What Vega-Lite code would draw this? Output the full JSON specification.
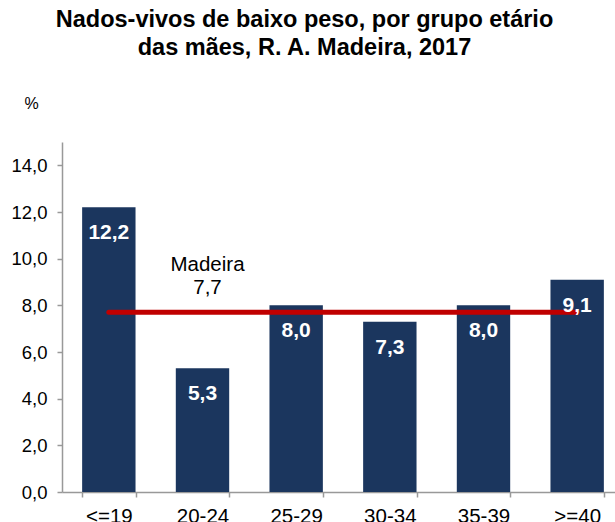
{
  "$schema": "https://vega.github.io/schema/vega-lite/v6.json",
  "autosize": {"type": "none"},
  "padding": {"left": 62, "top": 142, "right": 0, "bottom": 30},
  "width": 553,
  "height": 350,
  "background": "white",
  "config": {
    "font": "Liberation Sans",
    "view": {"stroke": null}
  },
  "title": {
    "text": ["Nados-vivos de baixo peso, por grupo etário", "das mães, R. A. Madeira, 2017"],
    "font": "Liberation Sans",
    "fontSize": 23.5,
    "fontWeight": "bold",
    "color": "#000000",
    "anchor": "middle",
    "dx": -34,
    "offset": 12,
    "lineHeight": 28,
    "baseline": "bottom"
  },
  "datasets": {
    "bars": [
      {"grupo": "<=19", "valor": 12.2, "rotulo": "12,2"},
      {"grupo": "20-24", "valor": 5.3, "rotulo": "5,3"},
      {"grupo": "25-29", "valor": 8.0, "rotulo": "8,0"},
      {"grupo": "30-34", "valor": 7.3, "rotulo": "7,3"},
      {"grupo": "35-39", "valor": 8.0, "rotulo": "8,0"},
      {"grupo": ">=40", "valor": 9.1, "rotulo": "9,1"}
    ],
    "media": [
      {"inicio": "<=19", "fim": ">=40", "pos": "20-24", "valor": 7.7, "rotulo": ["Madeira", "7,7"]}
    ]
  },
  "layer": [
    {
      "data": {"name": "bars"},
      "mark": {"type": "bar", "color": "#1B365E"},
      "encoding": {
        "x": {
          "field": "grupo",
          "type": "nominal",
          "sort": null,
          "scale": {"range": [0, 562], "paddingInner": 0.43, "paddingOuter": 0.215},
          "axis": {
            "title": null,
            "labelAngle": 0,
            "labelFontSize": 20.5,
            "labelColor": "#000000",
            "labelPadding": 9,
            "labelBaseline": "top",
            "domainColor": "#999999",
            "domainWidth": 1.5,
            "tickColor": "#999999",
            "tickWidth": 1.5,
            "tickSize": 5,
            "tickBand": "extent",
            "grid": false
          }
        },
        "y": {
          "field": "valor",
          "type": "quantitative",
          "scale": {"domain": [0, 15], "nice": false},
          "axis": {
            "values": [0, 2, 4, 6, 8, 10, 12, 14],
            "labelExpr": "replace(format(datum.value, '.1f'), '.', ',')",
            "labelFontSize": 18.5,
            "labelColor": "#000000",
            "labelPadding": 10,
            "domainColor": "#999999",
            "domainWidth": 1.5,
            "tickColor": "#999999",
            "tickWidth": 1.5,
            "tickSize": 5,
            "grid": false,
            "title": "%",
            "titleAngle": 0,
            "titleFontSize": 16,
            "titleFontWeight": "normal",
            "titleColor": "#000000",
            "titleAlign": "center",
            "titleBaseline": "alphabetic",
            "titleX": -31,
            "titleY": -34
          }
        }
      }
    },
    {
      "data": {"name": "media"},
      "mark": {"type": "rule", "color": "#C00000", "strokeWidth": 5, "strokeCap": "round"},
      "encoding": {
        "x": {"field": "inicio", "type": "nominal", "sort": null},
        "x2": {"field": "fim"},
        "y": {"field": "valor", "type": "quantitative"}
      }
    },
    {
      "data": {"name": "media"},
      "mark": {"type": "text", "fontSize": 20.5, "color": "#000000", "baseline": "middle", "align": "center", "dy": -47, "dx": 5, "lineHeight": 23},
      "encoding": {
        "x": {"field": "pos", "type": "nominal", "sort": null},
        "y": {"field": "valor", "type": "quantitative"},
        "text": {"field": "rotulo"}
      }
    },
    {
      "data": {"name": "bars"},
      "mark": {"type": "text", "fontSize": 21, "fontWeight": "bold", "color": "#FFFFFF", "baseline": "middle", "align": "center", "dy": 26},
      "encoding": {
        "x": {"field": "grupo", "type": "nominal", "sort": null},
        "y": {"field": "valor", "type": "quantitative"},
        "text": {"field": "rotulo"}
      }
    }
  ]
}
